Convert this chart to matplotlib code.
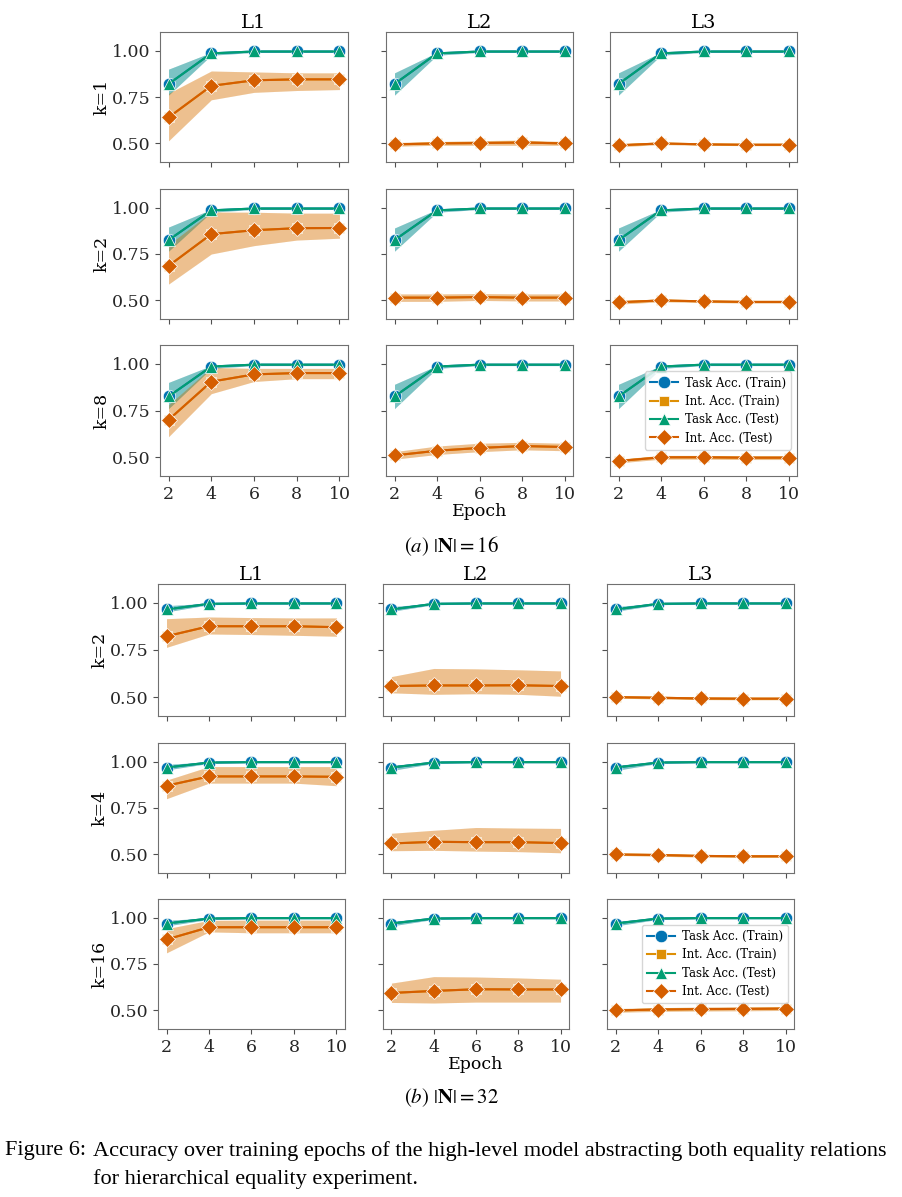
import matplotlib
matplotlib.use('Agg')
import matplotlib.pyplot as plt

plt.rcParams['font.family'] = 'DejaVu Serif'
plt.rcParams['mathtext.fontset'] = 'stix'

epochs = [2, 4, 6, 8, 10]
levels = ['L1', 'L2', 'L3']
a_ks = ['k=1', 'k=2', 'k=8']
b_ks = ['k=2', 'k=4', 'k=16']
legend_labels = ['Task Acc. (Train)', 'Int. Acc. (Train)', 'Task Acc. (Test)', 'Int. Acc. (Test)']

# ---- (a) |N| = 16 : [row k][column L][epoch] ----
a_task_test = [
    [[0.82, 0.985, 0.995, 0.995, 0.995], [0.82, 0.985, 0.995, 0.995, 0.995], [0.82, 0.985, 0.995, 0.995, 0.995]],
    [[0.825, 0.985, 0.995, 0.995, 0.995], [0.825, 0.985, 0.995, 0.995, 0.995], [0.825, 0.985, 0.995, 0.995, 0.995]],
    [[0.825, 0.985, 0.995, 0.995, 0.995], [0.825, 0.985, 0.995, 0.995, 0.995], [0.825, 0.985, 0.995, 0.995, 0.995]],
]
a_task_lo = [
    [[0.76, 0.975, 0.99, 0.99, 0.99], [0.76, 0.975, 0.99, 0.99, 0.99], [0.76, 0.975, 0.99, 0.99, 0.99]],
    [[0.765, 0.975, 0.99, 0.99, 0.99], [0.765, 0.975, 0.99, 0.99, 0.99], [0.765, 0.975, 0.99, 0.99, 0.99]],
    [[0.76, 0.975, 0.99, 0.99, 0.99], [0.76, 0.975, 0.99, 0.99, 0.99], [0.76, 0.975, 0.99, 0.99, 0.99]],
]
a_task_hi = [
    [[0.90, 0.99, 0.998, 0.998, 0.998], [0.88, 0.99, 0.998, 0.998, 0.998], [0.88, 0.99, 0.998, 0.998, 0.998]],
    [[0.895, 0.99, 0.998, 0.998, 0.998], [0.89, 0.99, 0.998, 0.998, 0.998], [0.89, 0.99, 0.998, 0.998, 0.998]],
    [[0.90, 0.99, 0.998, 0.998, 0.998], [0.89, 0.99, 0.998, 0.998, 0.998], [0.89, 0.99, 0.998, 0.998, 0.998]],
]
a_int_test = [
    [[0.64, 0.81, 0.84, 0.845, 0.845], [0.495, 0.50, 0.502, 0.505, 0.50], [0.49, 0.50, 0.495, 0.493, 0.493]],
    [[0.686, 0.857, 0.878, 0.889, 0.89], [0.515, 0.515, 0.518, 0.515, 0.515], [0.49, 0.50, 0.495, 0.492, 0.492]],
    [[0.70, 0.904, 0.943, 0.95, 0.95], [0.51, 0.535, 0.55, 0.56, 0.555], [0.48, 0.50, 0.50, 0.498, 0.498]],
]
a_int_lo = [
    [[0.514, 0.735, 0.775, 0.785, 0.79], [0.485, 0.49, 0.49, 0.49, 0.49], [0.482, 0.494, 0.49, 0.488, 0.488]],
    [[0.588, 0.75, 0.795, 0.825, 0.835], [0.495, 0.495, 0.50, 0.497, 0.497], [0.48, 0.493, 0.489, 0.486, 0.486]],
    [[0.61, 0.84, 0.905, 0.92, 0.92], [0.49, 0.515, 0.53, 0.54, 0.535], [0.47, 0.49, 0.49, 0.488, 0.488]],
]
a_int_hi = [
    [[0.77, 0.89, 0.885, 0.88, 0.88], [0.505, 0.51, 0.515, 0.518, 0.51], [0.498, 0.506, 0.50, 0.498, 0.498]],
    [[0.80, 0.976, 0.975, 0.97, 0.97], [0.535, 0.535, 0.537, 0.535, 0.535], [0.50, 0.507, 0.50, 0.498, 0.498]],
    [[0.78, 0.98, 0.975, 0.975, 0.975], [0.53, 0.56, 0.575, 0.58, 0.575], [0.49, 0.51, 0.51, 0.508, 0.508]],
]
# train curves sit right under the test curves
a_task_train = a_task_test
a_int_train = a_int_test

# ---- (b) |N| = 32 ----
b_task_test = [
    [[0.965, 0.995, 0.997, 0.997, 0.997], [0.965, 0.995, 0.997, 0.997, 0.997], [0.965, 0.995, 0.997, 0.997, 0.997]],
    [[0.968, 0.995, 0.997, 0.997, 0.997], [0.968, 0.995, 0.997, 0.997, 0.997], [0.968, 0.995, 0.997, 0.997, 0.997]],
    [[0.968, 0.995, 0.997, 0.997, 0.997], [0.968, 0.995, 0.997, 0.997, 0.997], [0.968, 0.995, 0.997, 0.997, 0.997]],
]
b_task_lo = [
    [[0.952, 0.99, 0.994, 0.994, 0.994], [0.955, 0.99, 0.994, 0.994, 0.994], [0.955, 0.99, 0.994, 0.994, 0.994]],
    [[0.955, 0.99, 0.994, 0.994, 0.994], [0.952, 0.99, 0.994, 0.994, 0.994], [0.952, 0.99, 0.994, 0.994, 0.994]],
    [[0.955, 0.99, 0.994, 0.994, 0.994], [0.955, 0.99, 0.994, 0.994, 0.994], [0.955, 0.99, 0.994, 0.994, 0.994]],
]
b_task_hi = [
    [[0.985, 0.998, 0.999, 0.999, 0.999], [0.98, 0.998, 0.999, 0.999, 0.999], [0.98, 0.998, 0.999, 0.999, 0.999]],
    [[0.985, 0.998, 0.999, 0.999, 0.999], [0.98, 0.998, 0.999, 0.999, 0.999], [0.98, 0.998, 0.999, 0.999, 0.999]],
    [[0.985, 0.998, 0.999, 0.999, 0.999], [0.98, 0.998, 0.999, 0.999, 0.999], [0.98, 0.998, 0.999, 0.999, 0.999]],
]
b_int_test = [
    [[0.823, 0.876, 0.876, 0.876, 0.871], [0.559, 0.562, 0.562, 0.563, 0.559], [0.50, 0.497, 0.493, 0.492, 0.492]],
    [[0.87, 0.92, 0.92, 0.92, 0.918], [0.559, 0.568, 0.566, 0.566, 0.561], [0.50, 0.497, 0.492, 0.49, 0.49]],
    [[0.882, 0.948, 0.948, 0.948, 0.948], [0.594, 0.605, 0.614, 0.613, 0.613], [0.50, 0.505, 0.507, 0.508, 0.51]],
]
b_int_lo = [
    [[0.764, 0.835, 0.832, 0.828, 0.823], [0.523, 0.515, 0.518, 0.515, 0.505], [0.495, 0.49, 0.487, 0.486, 0.486]],
    [[0.80, 0.884, 0.884, 0.884, 0.87], [0.52, 0.522, 0.518, 0.515, 0.509], [0.495, 0.49, 0.486, 0.484, 0.484]],
    [[0.81, 0.923, 0.918, 0.918, 0.918], [0.543, 0.54, 0.545, 0.545, 0.545], [0.49, 0.495, 0.497, 0.498, 0.50]],
]
b_int_hi = [
    [[0.916, 0.925, 0.922, 0.92, 0.92], [0.609, 0.652, 0.65, 0.645, 0.639], [0.505, 0.503, 0.499, 0.498, 0.498]],
    [[0.90, 0.973, 0.973, 0.973, 0.973], [0.614, 0.63, 0.645, 0.642, 0.64], [0.505, 0.503, 0.498, 0.496, 0.496]],
    [[0.94, 0.985, 0.986, 0.986, 0.986], [0.647, 0.682, 0.68, 0.675, 0.668], [0.51, 0.515, 0.518, 0.52, 0.52]],
]
b_task_train = b_task_test
b_int_train = b_int_test

# colorblind palette
c_task_tr = '#0173b2'
c_int_tr = '#de8f05'
c_task_te = '#029e73'
c_int_te = '#d55e00'

W, H = 902, 1197
fig = plt.figure(figsize=(W / 100, H / 100), dpi=100)


def px_box(x0, x1, y0, y1):
    return [x0 / W, 1 - y1 / H, (x1 - x0) / W, (y1 - y0) / H]


def series(ax, m, lo, hi, color, marker, ms, band_alpha):
    ax.fill_between(epochs, lo, hi, color=color, alpha=band_alpha, lw=0)
    line, = ax.plot(epochs, m, '-', marker=marker, color=color, ms=ms, lw=1.5,
                    mec='white', mew=0.5)
    return line


def draw_part(cols, rows, ks, task_tr, int_tr, task_m, task_lo, task_hi,
              int_m, int_lo, int_hi):
    for i, (y0, y1) in enumerate(rows):
        for j, (x0, x1) in enumerate(cols):
            ax = fig.add_axes(px_box(x0, x1, y0, y1))
            h1 = series(ax, task_tr[i][j], task_lo[i][j], task_hi[i][j], c_task_tr, 'o', 9, 0.3)
            h2 = series(ax, int_tr[i][j], int_lo[i][j], int_hi[i][j], c_int_tr, 's', 7, 0.25)
            h3 = series(ax, task_m[i][j], task_lo[i][j], task_hi[i][j], c_task_te, '^', 8, 0.3)
            h4 = series(ax, int_m[i][j], int_lo[i][j], int_hi[i][j], c_int_te, 'D', 8.5, 0.25)
            ax.set_xlim(1.6, 10.4)
            ax.set_ylim(0.40, 1.10)
            ax.set_xticks(epochs)
            ax.set_yticks([0.5, 0.75, 1.0])
            ax.set_yticklabels(['0.50', '0.75', '1.00'])
            for s in ax.spines.values():
                s.set_color('#707070')
            ax.tick_params(colors='#505050', labelcolor='#262626', labelsize=12.5,
                           labelleft=(j == 0), labelbottom=(i == 2))
            if i == 0:
                ax.set_title(levels[j], fontsize=14, pad=3)
            if j == 0:
                ax.set_ylabel(ks[i], fontsize=12.5, labelpad=1)
            if i == 2 and j == 1:
                ax.set_xlabel('Epoch', fontsize=12.5, labelpad=0)
            if i == 2 and j == 2:
                ax.legend([h1, h2, h3, h4], legend_labels, loc='center right',
                          fontsize=8.5, handlelength=2.3, borderpad=0.45,
                          labelspacing=0.45, handletextpad=0.6)


draw_part([(160, 348), (386, 573), (610, 797)], [(32, 162), (189, 319), (345, 476)], a_ks,
          a_task_train, a_int_train, a_task_test, a_task_lo, a_task_hi,
          a_int_test, a_int_lo, a_int_hi)
draw_part([(158, 345), (383, 569), (607, 794)], [(584, 716), (743, 873), (899, 1029)], b_ks,
          b_task_train, b_int_train, b_task_test, b_task_lo, b_task_hi,
          b_int_test, b_int_lo, b_int_hi)

fig.text(0.5, 1 - 546 / H, r'$(a)\ \left|\mathbf{N}\right| = 16$', ha='center', va='center', fontsize=15)
fig.text(0.5, 1 - 1098 / H, r'$(b)\ \left|\mathbf{N}\right| = 32$', ha='center', va='center', fontsize=15)
fig.text(5 / W, 1 - 1151 / H, 'Figure 6:', family='Liberation Serif', fontsize=16, va='center')
fig.text(93 / W, 1 - 1151 / H,
         'Accuracy over training epochs of the high-level model abstracting both equality relations',
         family='Liberation Serif', fontsize=16, va='center')
fig.text(93 / W, 1 - 1179 / H, 'for hierarchical equality experiment.',
         family='Liberation Serif', fontsize=16, va='center')

fig.savefig('out.png', dpi=100)
